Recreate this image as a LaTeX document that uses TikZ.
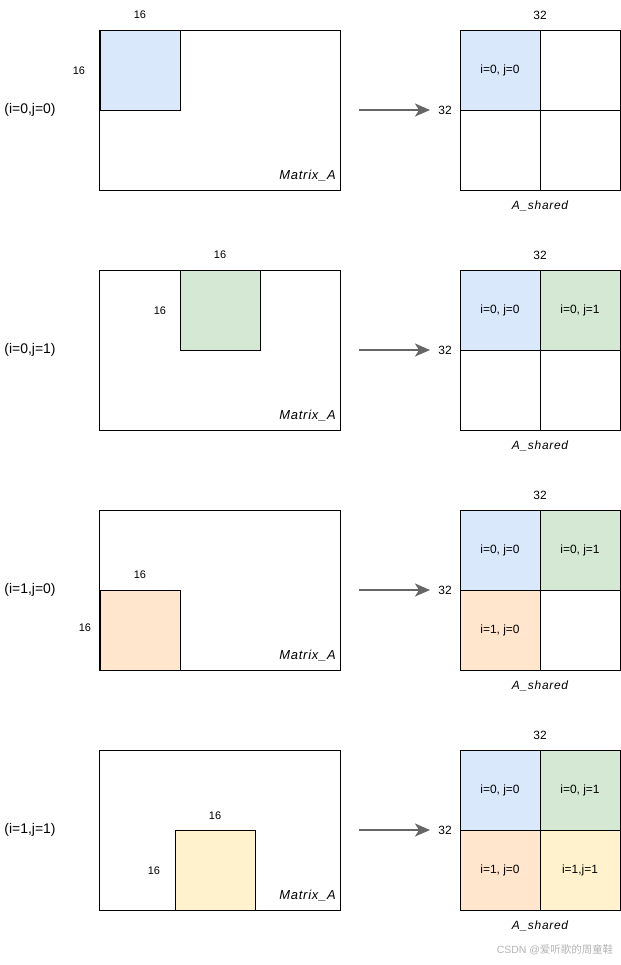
\documentclass[tikz,border=0pt]{standalone}
\usepackage{fontspec}
\setmainfont{Liberation Sans}
\newfontfamily\namefont[LetterSpace=6]{Liberation Sans}
\newfontfamily\cjk{Noto Sans CJK SC}
\usetikzlibrary{arrows.meta}
\definecolor{cblue}{HTML}{DAE8FC}
\definecolor{cgreen}{HTML}{D5E8D4}
\definecolor{corange}{HTML}{FFE6CC}
\definecolor{cyellow}{HTML}{FFF2CC}
\definecolor{arrgray}{HTML}{666666}
\definecolor{wmgray}{HTML}{B4B4B4}
\tikzset{
  matbox/.style={draw=black, line width=1bp, minimum width=240bp, minimum height=160bp, inner sep=0pt, outer sep=0pt},
  tile/.style={draw=black, line width=1bp, minimum width=80bp, minimum height=80bp, inner sep=0pt, outer sep=0pt},
  cell/.style={tile, font=\fontsize{12}{14}\selectfont},
  dimlbl/.style={inner sep=0pt, font=\fontsize{11}{13}\selectfont},
  biglbl/.style={inner sep=0pt, font=\fontsize{12}{14}\selectfont},
  idxlbl/.style={inner sep=0pt, font=\fontsize{14}{16}\selectfont},
  namelbl/.style={inner sep=0pt, font=\namefont\itshape\fontsize{13}{15}\selectfont},
  arr/.style={draw=arrgray, line width=2bp, -{Stealth[length=15bp, width=13bp, inset=4bp]}},
}
\begin{document}
\begin{tikzpicture}[x=1bp, y=-1bp]
\useasboundingbox (0,0) rectangle (621,965);
\foreach \k in {0,1,2,3} {
  \begin{scope}[shift={(0,240*\k)}]
    \node[matbox] (mat\k) at (220,110) {};
    \node[namelbl, anchor=east] (matname\k) at (336,176) {Matrix\_A};
    \node[biglbl] (topS\k) at (540,15) {32};
    \node[biglbl] (leftS\k) at (445,110) {32};
    \node[namelbl, font=\namefont\itshape\fontsize{12}{14}\selectfont] (sname\k) at (540,206) {A\_shared};
    \coordinate (as\k) at (359,110);
    \coordinate (ae\k) at (430,110);
    \draw[arr] (as\k) -- (ae\k);
  \end{scope}
}
% ---------- panel 1
\node[tile, fill=cblue] (sq0) at (140,70) {};
\node[dimlbl] (sq0t) at (140,15) {16};
\node[dimlbl] (sq0l) at (79,71) {16};
\node[idxlbl] (idx0) at (30,110) {(i=0,j=0)};
\node[cell, fill=cblue] (c0a) at (500,70) {i=0, j=0};
\node[cell] (c0b) at (580,70) {};
\node[cell] (c0c) at (500,150) {};
\node[cell] (c0d) at (580,150) {};
% ---------- panel 2
\node[tile, fill=cgreen] (sq1) at (220,310) {};
\node[dimlbl] (sq1t) at (220,255) {16};
\node[dimlbl] (sq1l) at (160,311) {16};
\node[idxlbl] (idx1) at (30,350) {(i=0,j=1)};
\node[cell, fill=cblue] (c1a) at (500,310) {i=0, j=0};
\node[cell, fill=cgreen] (c1b) at (580,310) {i=0, j=1};
\node[cell] (c1c) at (500,390) {};
\node[cell] (c1d) at (580,390) {};
% ---------- panel 3
\node[tile, fill=corange] (sq2) at (140,630) {};
\node[dimlbl] (sq2t) at (140,575) {16};
\node[dimlbl] (sq2l) at (85,628) {16};
\node[idxlbl] (idx2) at (30,590) {(i=1,j=0)};
\node[cell, fill=cblue] (c2a) at (500,550) {i=0, j=0};
\node[cell, fill=cgreen] (c2b) at (580,550) {i=0, j=1};
\node[cell, fill=corange] (c2c) at (500,630) {i=1, j=0};
\node[cell] (c2d) at (580,630) {};
% ---------- panel 4
\node[tile, fill=cyellow] (sq3) at (215,870) {};
\node[dimlbl] (sq3t) at (215,816) {16};
\node[dimlbl] (sq3l) at (154,871) {16};
\node[idxlbl] (idx3) at (30,830) {(i=1,j=1)};
\node[cell, fill=cblue] (c3a) at (500,790) {i=0, j=0};
\node[cell, fill=cgreen] (c3b) at (580,790) {i=0, j=1};
\node[cell, fill=corange] (c3c) at (500,870) {i=1, j=0};
\node[cell, fill=cyellow] (c3d) at (580,870) {i=1,j=1};
% redraw outer frames on top
\foreach \k in {0,1,2,3} {
  \draw[line width=1bp] (mat\k.north west) rectangle (mat\k.south east);
}
% watermark
\node[inner sep=0pt, text=wmgray, font=\fontsize{10.5}{12}\selectfont] (wm) at (555,950) {CSDN @{\cjk 爱听歌的周童鞋}};
\end{tikzpicture}
\end{document}
